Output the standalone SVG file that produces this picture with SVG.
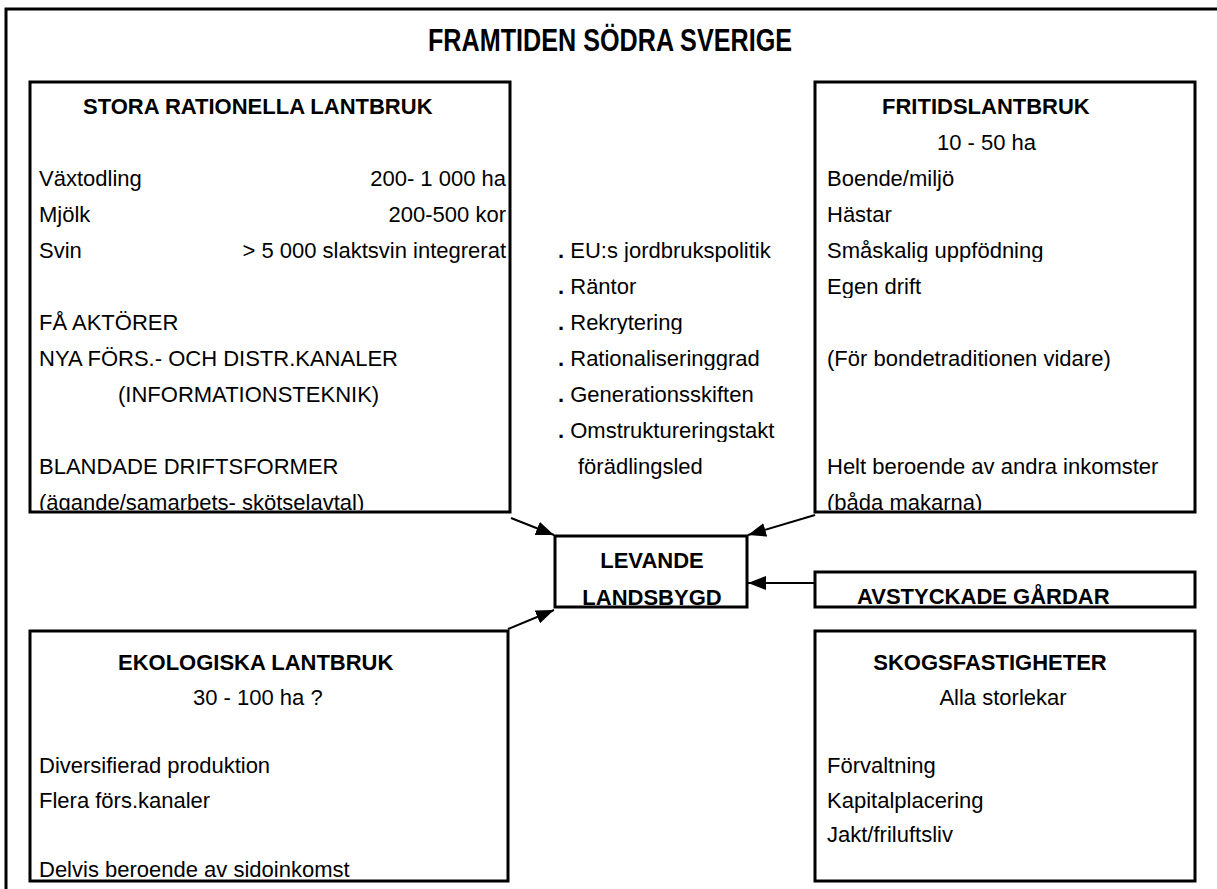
<svg xmlns="http://www.w3.org/2000/svg" width="1217" height="889" viewBox="0 0 1217 889">
<style>
text{font-family:"Liberation Sans",Arial,sans-serif;font-size:22px;fill:#000}
.b{font-weight:bold}
.t{font-size:31px;font-weight:bold}
.box{fill:none;stroke:#000;stroke-width:3}
.con{stroke:#000;stroke-width:2;fill:none}
</style>
<defs>
<marker id="ah" markerUnits="userSpaceOnUse" markerWidth="20" markerHeight="16" refX="18" refY="7" orient="auto">
<path d="M0,0 L18,7 L0,14 Z" fill="#000"/>
</marker>
<clipPath id="cTL"><rect x="30" y="82" width="480" height="428"/></clipPath>
<clipPath id="cTR"><rect x="815" y="82" width="380" height="428"/></clipPath>
<clipPath id="cLV"><rect x="555" y="536" width="192" height="70"/></clipPath>
<clipPath id="cAV"><rect x="815" y="572" width="380" height="34"/></clipPath>
<clipPath id="cBL"><rect x="30" y="631" width="478" height="248"/></clipPath>
<clipPath id="cBR"><rect x="815" y="631" width="380" height="248"/></clipPath>
<clipPath id="r258"><rect x="0" y="230" width="1217" height="32"/></clipPath>
<clipPath id="r294"><rect x="0" y="266" width="1217" height="32"/></clipPath>
<clipPath id="r330"><rect x="0" y="302" width="1217" height="32"/></clipPath>
<clipPath id="r366"><rect x="0" y="338" width="1217" height="32"/></clipPath>
<clipPath id="r438"><rect x="0" y="410" width="1217" height="32"/></clipPath>
</defs>
<rect x="6" y="9" width="1230" height="900" class="box"/>
<text class="t" x="428" y="51" textLength="364" lengthAdjust="spacingAndGlyphs">FRAMTIDEN SÖDRA SVERIGE</text>

<g id="stora">
<rect x="30" y="82" width="480" height="430" class="box"/>
<g clip-path="url(#cTL)">
<text class="b" x="83" y="114">STORA RATIONELLA LANTBRUK</text>
<text x="39" y="186">Växtodling</text>
<text x="506" y="186" text-anchor="end">200- 1 000 ha</text>
<text x="39" y="222">Mjölk</text>
<text x="506" y="222" text-anchor="end">200-500 kor</text>
<text x="39" y="258">Svin</text>
<text x="506" y="258" text-anchor="end">&gt; 5 000 slaktsvin integrerat</text>
<text x="39" y="330">FÅ AKTÖRER</text>
<text x="39" y="366">NYA FÖRS.- OCH DISTR.KANALER</text>
<text x="118" y="402">(INFORMATIONSTEKNIK)</text>
<text x="39" y="474">BLANDADE DRIFTSFORMER</text>
<text x="39" y="510">(ägande/samarbets- skötselavtal)</text>
</g>
</g>

<g id="faktorer">
<text x="558" y="258" clip-path="url(#r258)"><tspan class="b">.</tspan> EU:s jordbrukspolitik</text>
<text x="558" y="294" clip-path="url(#r294)"><tspan class="b">.</tspan> Räntor</text>
<text x="558" y="330" clip-path="url(#r330)"><tspan class="b">.</tspan> Rekrytering</text>
<text x="558" y="366" clip-path="url(#r366)"><tspan class="b">.</tspan> Rationaliseringgrad</text>
<text x="558" y="402"><tspan class="b">.</tspan> Generationsskiften</text>
<text x="558" y="438" clip-path="url(#r438)"><tspan class="b">.</tspan> Omstruktureringstakt</text>
<text x="578" y="474">förädlingsled</text>
</g>

<g id="fritid">
<rect x="815" y="82" width="380" height="430" class="box"/>
<g clip-path="url(#cTR)">
<text class="b" x="882" y="114">FRITIDSLANTBRUK</text>
<text x="937" y="150">10 - 50 ha</text>
<text x="827" y="186">Boende/miljö</text>
<text x="827" y="222">Hästar</text>
<text x="827" y="258" clip-path="url(#r258)">Småskalig uppfödning</text>
<text x="827" y="294" clip-path="url(#r294)">Egen drift</text>
<text x="827" y="366">(För bondetraditionen vidare)</text>
<text x="827" y="474">Helt beroende av andra inkomster</text>
<text x="827" y="510">(båda makarna)</text>
</g>
</g>

<g id="levande">
<rect x="555" y="536" width="192" height="71" class="box"/>
<g clip-path="url(#cLV)">
<text class="b" x="652" y="568" text-anchor="middle">LEVANDE</text>
<text class="b" x="652" y="605" text-anchor="middle">LANDSBYGD</text>
</g>
</g>

<g id="avstyckade">
<rect x="815" y="572" width="380" height="35" class="box"/>
<text class="b" x="857" y="604" clip-path="url(#cAV)">AVSTYCKADE GÅRDAR</text>
</g>

<g id="ekologiska">
<rect x="30" y="631" width="478" height="250" class="box"/>
<g clip-path="url(#cBL)">
<text class="b" x="118" y="670">EKOLOGISKA LANTBRUK</text>
<text x="193" y="705">30 - 100 ha ?</text>
<text x="39" y="773">Diversifierad produktion</text>
<text x="39" y="808">Flera förs.kanaler</text>
<text x="39" y="877">Delvis beroende av sidoinkomst</text>
</g>
</g>

<g id="skog">
<rect x="815" y="631" width="380" height="250" class="box"/>
<g clip-path="url(#cBR)">
<text class="b" x="990" y="670" text-anchor="middle">SKOGSFASTIGHETER</text>
<text x="1003" y="705" text-anchor="middle">Alla storlekar</text>
<text x="827" y="773">Förvaltning</text>
<text x="827" y="808">Kapitalplacering</text>
<text x="827" y="842">Jakt/friluftsliv</text>
</g>
</g>

<g id="connectors">
<line x1="511" y1="518" x2="554" y2="535" class="con" marker-end="url(#ah)"/>
<line x1="815" y1="515" x2="748" y2="535" class="con" marker-end="url(#ah)"/>
<line x1="815" y1="583" x2="748" y2="583" class="con" marker-end="url(#ah)"/>
<line x1="508" y1="629" x2="554" y2="610" class="con" marker-end="url(#ah)"/>
</g>
</svg>
